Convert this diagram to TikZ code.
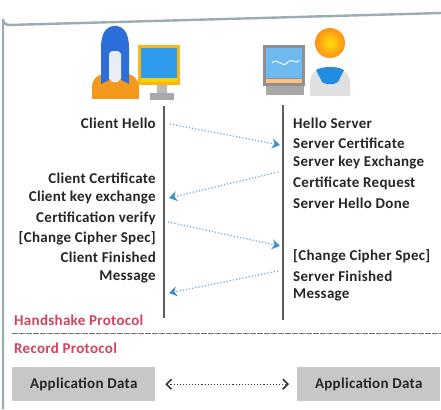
\documentclass[tikz,border=0pt]{standalone}
\usepackage{fontspec}
\setmainfont{Carlito}
\usetikzlibrary{arrows.meta}
\definecolor{framec}{HTML}{9AAEB2}
\definecolor{msgblue}{HTML}{3D8ED0}
\definecolor{protored}{HTML}{D3425E}
\definecolor{boxgray}{HTML}{C7C7C7}
\definecolor{lifegray}{HTML}{5E5E5E}
\definecolor{hoodblue}{HTML}{2D6FD8}
\definecolor{skin}{HTML}{E9EEF4}
\definecolor{bodyorange}{HTML}{F39A1E}
\definecolor{screenblue}{HTML}{2E9BEA}
\definecolor{standgray}{HTML}{A8A8A8}
\definecolor{headorange}{HTML}{FFAA1C}
\newcommand{\msgfont}{\bfseries\fontsize{15}{17}\selectfont\addfontfeatures{LetterSpace=2}}
\tikzset{
  msg/.style={font=\msgfont, text=black!85, inner sep=0pt},
  proto/.style={font=\msgfont, text=protored, inner sep=0pt, anchor=west},
  lifeline/.style={draw=lifegray, line width=1.8pt},
  msgarrow/.style={draw=msgblue!75, dotted, line width=1.2pt,
    -{Stealth[length=8pt,width=10pt,color=msgblue,fill=msgblue]}},
  databox/.style={fill=boxgray, minimum width=143pt, minimum height=34pt, inner sep=0pt,
    font=\msgfont, text=black!85},
  dataarrow/.style={draw=black!80, dotted, line width=1.1pt,
    {Straight Barb[length=5pt,width=10pt,line width=1.6pt]}-{Straight Barb[length=5pt,width=10pt,line width=1.6pt]}}
}
\begin{document}
\begin{tikzpicture}[x=1pt,y=-1pt]
\useasboundingbox (0,0) rectangle (441,409);
\fill[white] (0,0) rectangle (441,409);

% outer frame
\draw[framec, line width=2.4pt] (3,409) -- (3,19) arc[start angle=180,end angle=90,radius=6] -- (441,13);

% client icon: person
\fill[bodyorange] (92,99) -- (92,88) .. controls (92,78) and (99,74) .. (106,73)
  -- (124,73) .. controls (132,74) and (139,78) .. (139,88) -- (139,99) -- cycle;
\fill[hoodblue] (101,84) -- (101,48) .. controls (101,32) and (107,26) .. (115,26)
  .. controls (123,26) and (129,32) .. (129,48) -- (129,84) -- (121,80) -- (121,54)
  .. controls (121,50) and (109,50) .. (109,54) -- (109,80) -- cycle;
\fill[skin] (109,54) .. controls (109,50) and (121,50) .. (121,54) -- (121,78)
  .. controls (119,84) and (111,84) .. (109,78) -- cycle;
% client icon: monitor
\fill[standgray] (150,93) rectangle (174,100);
\fill[standgray!80] (157,84) rectangle (167,93);
\fill[bodyorange!70!yellow] (138,45) rectangle (180,85);
\fill[screenblue] (141,48) rectangle (177,78);
\fill[yellow!70!orange] (141,78) rectangle (177,82);

% server icon: monitor
\fill[standgray] (266,86) rectangle (304,95);
\fill[standgray!85!black] (263,45) rectangle (305,86);
\fill[screenblue!70!white] (266,48) rectangle (302,78);
\fill[orange!50!white] (266,79) rectangle (302,83);
\draw[white, line width=1pt] (272,63) .. controls (278,56) and (282,70) .. (288,62)
  .. controls (292,57) and (296,66) .. (299,60);
% server icon: person
\fill[black!12] (310,96) -- (310,82) .. controls (310,72) and (320,67) .. (330,67)
  .. controls (340,67) and (350,72) .. (350,82) -- (350,96) -- cycle;
\fill[hoodblue!80!cyan] (316,70) .. controls (322,66) and (338,66) .. (344,70)
  -- (338,82) .. controls (334,85) and (326,85) .. (322,82) -- cycle;
\shade[inner color=yellow!60!headorange, outer color=headorange!85!red] (330,43) circle[radius=15];

% lifelines
\coordinate (ctop) at (164,106);
\coordinate (cbot) at (164,318);
\coordinate (stop) at (283,105);
\coordinate (sbot) at (283,320);
\draw[lifeline] (ctop) -- (cbot);
\draw[lifeline] (stop) -- (sbot);

% client messages
\node[msg, anchor=east] (chello) at (156,123) {Client Hello};
\node[msg, anchor=east] (ccert) at (156,178) {Client Certificate};
\node[msg, anchor=east] (ckey) at (156,198) {Client key exchange};
\node[msg, anchor=east] (cverify) at (156,218) {Certification verify};
\node[msg, anchor=east] (cccs) at (156,238) {[Change Cipher Spec]};
\node[msg, anchor=east] (cfin) at (156,257) {Client Finished};
\node[msg, anchor=east] (cmsg) at (156,277) {Message};

% server messages
\node[msg, anchor=west] (shello) at (293,123) {Hello Server};
\node[msg, anchor=west] (scert) at (293,143) {Server Certificate};
\node[msg, anchor=west] (skey) at (293,163) {Server key Exchange};
\node[msg, anchor=west] (sreq) at (293,183) {Certificate Request};
\node[msg, anchor=west] (sdone) at (293,203) {Server Hello Done};
\node[msg, anchor=west] (sccs) at (293,256) {[Change Cipher Spec]};
\node[msg, anchor=west] (sfin) at (293,276) {Server Finished};
\node[msg, anchor=west] (smsg) at (293,295) {Message};

% message exchange
\coordinate (m1a) at (170,124);
\coordinate (m1b) at (280,145);
\coordinate (m2a) at (278,172);
\coordinate (m2b) at (169,198);
\coordinate (m3a) at (168,222);
\coordinate (m3b) at (280,246);
\coordinate (m4a) at (278,271);
\coordinate (m4b) at (169,293);
\draw[msgarrow] (m1a) -- (m1b);
\draw[msgarrow] (m2a) -- (m2b);
\draw[msgarrow] (m3a) -- (m3b);
\draw[msgarrow] (m4a) -- (m4b);

% protocol layers
\node[proto] (hs) at (14,320) {Handshake Protocol};
\coordinate (sepl) at (12,333);
\coordinate (sepr) at (441,333);
\draw[black!55, dash pattern=on 6pt off 1pt, line width=1pt] (sepl) -- (sepr);
\node[proto] (rec) at (14,348) {Record Protocol};

% application data
\node[databox, anchor=north west] (appc) at (12,367) {Application Data};
\node[databox, anchor=north west] (apps) at (297,367) {Application Data};
\draw[dataarrow] ([xshift=10pt]appc.east) -- ([xshift=-8pt]apps.west);
\end{tikzpicture}
\end{document}
